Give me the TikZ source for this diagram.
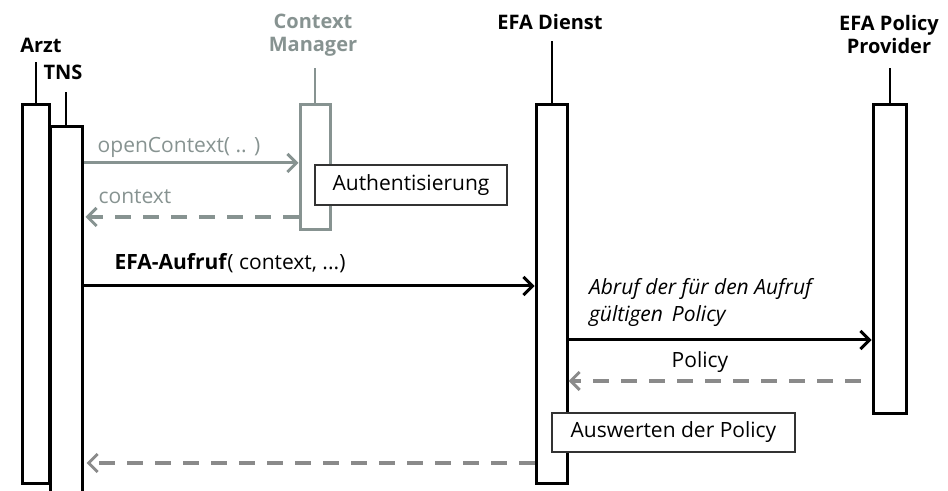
\documentclass[tikz,border=0pt]{standalone}
\usepackage{fontspec}
\setmainfont{Open Sans}
\usetikzlibrary{arrows.meta,positioning}

\definecolor{ctxgray}{RGB}{135,147,145}
\definecolor{retgray}{RGB}{138,138,138}

\tikzset{
  actbar/.style={draw, line width=1.5pt, fill=white, inner sep=0pt, anchor=north},
  head/.style={font=\bfseries\fontsize{10}{11.5}\selectfont, align=center},
  stub/.style={line width=1pt},
  msg/.style={line width=1.5pt, -{Straight Barb[length=4.5pt,width=9pt,line width=1.5pt]}},
  ret/.style={msg, line width=1.8pt, dash pattern=on 8pt off 6pt},
  lbl/.style={font=\fontsize{10.5}{12}\selectfont},
  note/.style={draw=black!80, line width=0.9pt, fill=white, lbl, inner sep=0pt}
}

\begin{document}
\begin{tikzpicture}[x=0.5pt, y=-0.5pt]
  \useasboundingbox (0,0) rectangle (948,491);

  % heads
  \node[head] (arztlbl) at (41,45) {Arzt};
  \node[head] (tnslbl) at (63,72) {TNS};
  \node[head, ctxgray] (cmlbl) at (313,35) {Context\\Manager};
  \node[head] (efalbl) at (550,22) {EFA Dienst};
  \node[head] (pollbl) at (889,35) {EFA Policy\\Provider};

  % activation bars
  \node[actbar, minimum width=13.5pt, minimum height=189.5pt] (arzt) at (35.5,103) {};
  \node[actbar, minimum width=16pt, minimum height=190pt] (tns) at (66,125) {};
  \node[actbar, draw=ctxgray, minimum width=15pt, minimum height=62.5pt] (cm) at (315,103) {};
  \node[actbar, minimum width=15.5pt, minimum height=189.5pt] (efa) at (551.5,103) {};
  \node[actbar, minimum width=16.5pt, minimum height=154.5pt] (pol) at (889.5,103) {};

  \draw[stub] (arzt.north) -- (arzt.north |- 0,62);
  \draw[stub] (tns.north) -- (tns.north |- 0,92);
  \draw[stub, ctxgray] (cm.north) -- (cm.north |- 0,68);
  \draw[stub] (efa.north) -- (efa.north |- 0,41);
  \draw[stub] (pol.north) -- (pol.north |- 0,68);

  % message heights
  \coordinate (m1) at (0,163);
  \coordinate (m2) at (0,217);
  \coordinate (m3) at (0,286);
  \coordinate (m4) at (0,340);
  \coordinate (m5) at (0,381);
  \coordinate (m6) at (0,463);

  \draw[msg, ctxgray] (tns.east |- m1) -- (cm.west |- m1);
  \node[lbl, ctxgray] (open) at (179,147) {openContext( .. )};
  \node[note, minimum width=96pt, minimum height=20pt] (auth) at (411,185) {Authentisierung};
  \draw[ret, ctxgray] (cm.west |- m2) -- ([xshift=1pt]tns.east |- m2);
  \node[lbl, ctxgray] (ctx) at (135,197) {context};

  \draw[msg] (tns.east |- m3) -- (efa.west |- m3);
  \node[lbl] (aufruf) at (230,263) {\textbf{EFA-Aufruf}( context, ...)};

  \draw[msg] (efa.east |- m4) -- (pol.west |- m4);
  \node[lbl, font=\itshape\fontsize{10.5}{13.5}\selectfont, align=left, anchor=west] (abruf) at (582,302)
    {Abruf der für den Aufruf\\gültigen\, Policy};
  \draw[ret, retgray] ([xshift=-5.5pt]pol.west |- m5) -- (efa.east |- m5);
  \node[lbl] (policy) at (700,362) {Policy};

  \node[note, minimum width=121.5pt, minimum height=19.5pt] (ausw) at (673.5,432.5) {Auswerten der Policy};
  \draw[ret, retgray] (efa.west |- m6) -- ([xshift=1.5pt]tns.east |- m6);
\end{tikzpicture}
\end{document}
